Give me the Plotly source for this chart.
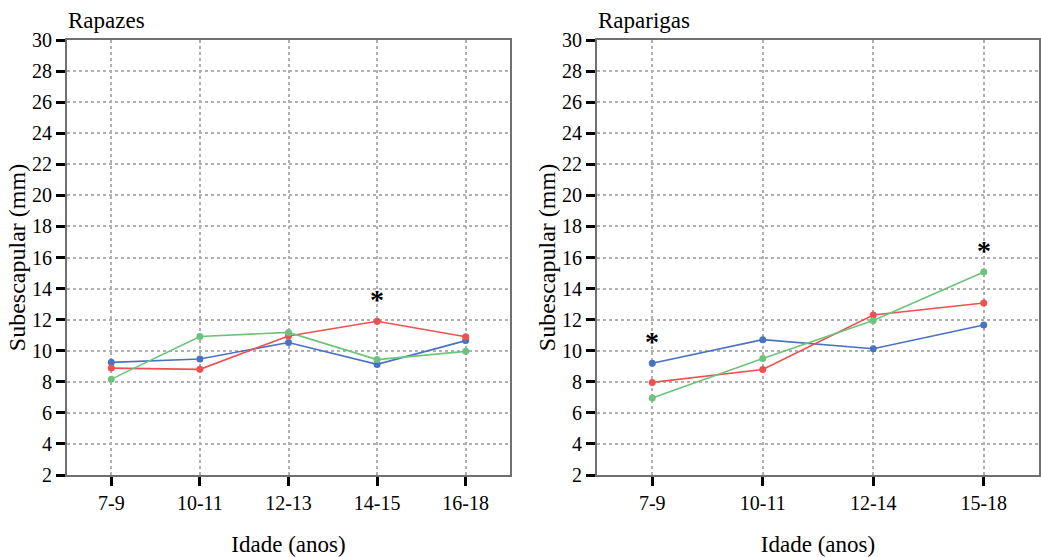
import plotly.graph_objects as go

W, H = 1041, 557

# Rapazes (boys)
cats_boys = ["7-9", "10-11", "12-13", "14-15", "16-18"]
boys_blue = [9.25, 9.47, 10.53, 9.12, 10.65]
boys_red = [8.88, 8.8, 10.95, 11.9, 10.9]
boys_green = [8.17, 10.92, 11.18, 9.43, 9.96]
boys_star = ["", "", "", "*", ""]

# Raparigas (girls)
cats_girls = ["7-9", "10-11", "12-14", "15-18"]
girls_blue = [9.19, 10.71, 10.13, 11.65]
girls_red = [7.96, 8.79, 12.3, 13.07]
girls_green = [6.95, 9.5, 11.94, 15.06]
girls_star = ["*", "", "", "*"]

y_ticks = list(range(2, 31, 2))

colors = {"blue": "#4A72C2", "red": "#F0504F", "green": "#6CC47C"}
FONT = "Liberation Serif, Times New Roman, serif"

fig = go.Figure()

def add_series(cats, vals, color, xa, ya):
    fig.add_trace(go.Scatter(
        x=cats, y=vals, mode="lines+markers",
        line=dict(color=color, width=1.6),
        marker=dict(color=color, size=7),
        xaxis=xa, yaxis=ya, showlegend=False, hoverinfo="x+y"))

for vals, c in [(boys_blue, "blue"), (boys_red, "red"), (boys_green, "green")]:
    add_series(cats_boys, vals, colors[c], "x", "y")
for vals, c in [(girls_blue, "blue"), (girls_red, "red"), (girls_green, "green")]:
    add_series(cats_girls, vals, colors[c], "x2", "y2")

# significance stars
boys_max = [max(a, b, c) for a, b, c in zip(boys_blue, boys_red, boys_green)]
girls_max = [max(a, b, c) for a, b, c in zip(girls_blue, girls_red, girls_green)]
for cat, s, m in zip(cats_boys, boys_star, boys_max):
    if s:
        fig.add_annotation(x=cat, y=m, text="<b>" + s + "</b>", xref="x", yref="y",
                           showarrow=False, yshift=22,
                           font=dict(family=FONT, size=28, color="black"))
for cat, s, m in zip(cats_girls, girls_star, girls_max):
    if s:
        fig.add_annotation(x=cat, y=m, text="<b>" + s + "</b>", xref="x2", yref="y2",
                           showarrow=False, yshift=22,
                           font=dict(family=FONT, size=28, color="black"))

ydom = [1 - 475 / H, 1 - 40 / H]
axis_common = dict(
    showline=True, linecolor="#707070", linewidth=2, mirror=True,
    showgrid=True, gridcolor="#B0B0B0", griddash="dot", gridwidth=1.5,
    ticks="outside", tickcolor="black", tickwidth=3, ticklen=9,
    tickfont=dict(family=FONT, size=20, color="black"), zeroline=False,
    automargin=False,
)

fig.update_layout(
    width=W, height=H, margin=dict(l=0, r=0, t=0, b=0),
    paper_bgcolor="white", plot_bgcolor="white",
    font=dict(family=FONT, color="black"),
    xaxis=dict(domain=[67 / W, 510 / W], anchor="y", type="category",
               range=[-0.5, len(cats_boys) - 0.5],
               title=dict(text="Idade (anos)", font=dict(family=FONT, size=23), standoff=23),
               **axis_common),
    yaxis=dict(domain=ydom, anchor="x", range=[2, 30], tickvals=y_ticks,
               title=dict(text="Subescapular (mm)", font=dict(family=FONT, size=24), standoff=0),
               **axis_common),
    xaxis2=dict(domain=[597 / W, 1039 / W], anchor="y2", type="category",
                range=[-0.5, len(cats_girls) - 0.5],
                title=dict(text="Idade (anos)", font=dict(family=FONT, size=23), standoff=23),
                **axis_common),
    yaxis2=dict(domain=ydom, anchor="x2", range=[2, 30], tickvals=y_ticks,
                title=dict(text="Subescapular (mm)", font=dict(family=FONT, size=24), standoff=0),
                **axis_common),
)

fig.add_annotation(x=66 / W, y=1 - 20 / H, xref="paper", yref="paper", text="Rapazes",
                   showarrow=False, xanchor="left", yanchor="middle",
                   font=dict(family=FONT, size=23, color="black"))
fig.add_annotation(x=596 / W, y=1 - 20 / H, xref="paper", yref="paper", text="Raparigas",
                   showarrow=False, xanchor="left", yanchor="middle",
                   font=dict(family=FONT, size=23, color="black"))

fig.write_html("out.html", config={"displayModeBar": False},
               post_script="document.body.style.margin='0';")
